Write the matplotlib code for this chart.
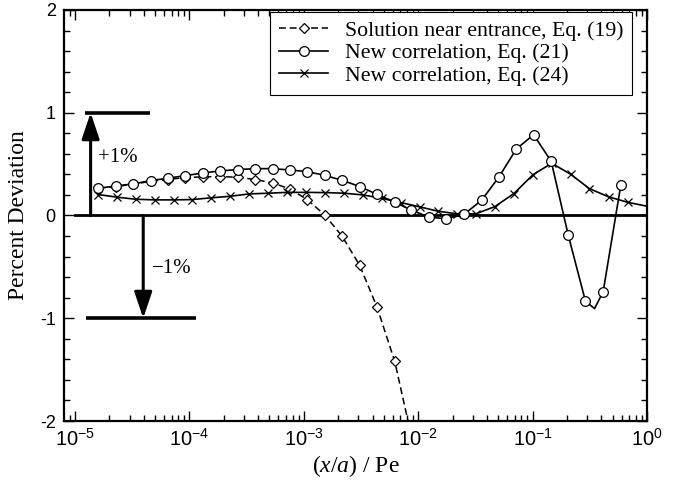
import matplotlib
matplotlib.use("Agg")
import matplotlib.pyplot as plt
import numpy as np

plt.rcParams['font.family'] = ['Liberation Serif', 'DejaVu Serif']
plt.rcParams['mathtext.fontset'] = 'custom'
plt.rcParams['mathtext.rm'] = 'Liberation Serif'
plt.rcParams['mathtext.it'] = 'Liberation Serif:italic'
plt.rcParams['mathtext.sf'] = 'Liberation Sans'

# ---- data ----
# Eq. (19): solution near entrance (dashed, diamonds)
x19 = [1.60e-5, 2.28e-5, 3.23e-5, 4.58e-5, 6.44e-5, 9.18e-5, 1.32e-4, 1.86e-4,
       2.65e-4, 3.78e-4, 5.33e-4, 7.55e-4, 1.07e-3, 1.52e-3, 2.16e-3, 3.08e-3,
       4.35e-3, 6.24e-3, 8.73e-3]
y19 = [0.265, 0.282, 0.304, 0.333, 0.350, 0.369, 0.376, 0.379,
       0.372, 0.350, 0.317, 0.259, 0.155, 0.007, -0.201, -0.485,
       -0.886, -1.420, -2.15]

# Eq. (21): new correlation (solid, circles)
x21 = [1.60e-5, 2.28e-5, 3.23e-5, 4.58e-5, 6.44e-5, 9.18e-5, 1.32e-4, 1.86e-4,
       2.65e-4, 3.78e-4, 5.33e-4, 7.55e-4, 1.07e-3, 1.52e-3, 2.16e-3, 3.08e-3,
       4.35e-3, 6.24e-3, 8.73e-3, 1.245e-2, 1.76e-2, 2.51e-2, 3.59e-2, 5.08e-2,
       7.21e-2, 0.102, 0.1455, 0.205, 0.290, 0.414, 0.590]
y21 = [0.265, 0.288, 0.307, 0.340, 0.362, 0.388, 0.414, 0.434,
       0.447, 0.456, 0.456, 0.443, 0.427, 0.391, 0.343, 0.282,
       0.207, 0.129, 0.052, -0.016, -0.032, 0.010, 0.149, 0.375,
       0.647, 0.786, 0.527, -0.191, -0.835, -0.741, 0.294]
# extra curve point (minimum of the Eq. 21 curve, no marker)
x21_min = [0.348]
y21_min = [-0.906]

# Eq. (24): new correlation (solid, crosses)
x24 = [1.60e-5, 2.34e-5, 3.41e-5, 5.00e-5, 7.28e-5, 1.058e-4, 1.55e-4, 2.27e-4,
       3.34e-4, 4.90e-4, 7.18e-4, 1.052e-3, 1.54e-3, 2.25e-3, 3.30e-3, 4.78e-3,
       7.13e-3, 1.03e-2, 1.49e-2, 2.18e-2, 3.18e-2, 4.69e-2, 6.87e-2, 0.101,
       0.147, 0.215, 0.313, 0.461, 0.676]
y24 = [0.204, 0.178, 0.158, 0.152, 0.152, 0.155, 0.172, 0.187,
       0.210, 0.217, 0.225, 0.225, 0.223, 0.217, 0.200, 0.168,
       0.125, 0.084, 0.042, 0.016, 0.016, 0.087, 0.214, 0.398,
       0.508, 0.402, 0.262, 0.182, 0.129]
# curve end at right edge (no marker)
x24_end = [1.0]
y24_end = [0.09]

labels = ["Solution near entrance, Eq. (19)",
          "New correlation, Eq. (21)",
          "New correlation, Eq. (24)"]

xtick_vals = [1e-5, 1e-4, 1e-3, 1e-2, 1e-1, 1e0]
xtick_labels = [r'$\mathsf{10^{-5}}$', r'$\mathsf{10^{-4}}$', r'$\mathsf{10^{-3}}$',
                r'$\mathsf{10^{-2}}$', r'$\mathsf{10^{-1}}$', r'$\mathsf{10^{0}}$']
ytick_vals = [-2, -1, 0, 1, 2]
ytick_labels = ['-2', '-1', '0', '1', '2']

# ---- figure ----
fig = plt.figure(figsize=(6.75, 4.87), dpi=100)
ax = fig.add_axes([0.0948, 0.1355, 0.8637, 0.844])

ax.set_xscale('log')
ax.set_xlim(10 ** -5.096, 1.0)
ax.set_ylim(-2, 2)

# zero line
ax.plot([1e-5, 1.0], [0, 0], color='black', lw=2.0, zorder=2)

# +1% / -1% bars and arrows
ax.plot([1.22e-5, 4.52e-5], [1, 1], color='black', lw=2.6, solid_capstyle='butt', zorder=3)
ax.plot([1.25e-5, 1.14e-4], [-1, -1], color='black', lw=2.6, solid_capstyle='butt', zorder=3)
arrow_kw = dict(arrowstyle='-|>,head_length=0.8,head_width=0.27', lw=2.2,
                color='black', shrinkA=0, shrinkB=0, mutation_scale=20)
ax.annotate('', xy=(1.37e-5, 1.0), xytext=(1.37e-5, 0.0), arrowprops=arrow_kw, zorder=3)
ax.annotate('', xy=(3.95e-5, -1.0), xytext=(3.95e-5, 0.0), arrowprops=arrow_kw, zorder=3)
ax.text(1.6e-5, 0.56, '+1%', fontsize=15, ha='left', va='center')
ax.text(4.7e-5, -0.52, '\u22121%', fontsize=15, ha='left', va='center')

# curves
ax.plot(x19, y19, color='black', lw=1.1, ls=(0, (4.5, 2.5)), marker='D', ms=5.2,
        mfc='white', mec='black', mew=0.9, label=labels[0], zorder=4)

xc = x21 + x21_min
yc = y21 + y21_min
order = np.argsort(xc)
ax.plot(np.array(xc)[order], np.array(yc)[order], color='black', lw=1.2, zorder=4)
ax.plot(x21, y21, ls='none', marker='o', ms=7, mfc='white', mec='black', mew=0.9, zorder=5)
h21, = ax.plot([], [], color='black', lw=1.2, marker='o', ms=7, mfc='white',
               mec='black', mew=0.9, label=labels[1])

ax.plot(x24 + x24_end, y24 + y24_end, color='black', lw=1.2, marker='x', ms=5.5,
        mec='black', mew=0.9, markevery=list(range(len(x24))), label=labels[2], zorder=4)

# ticks
ax.set_xticks(xtick_vals)
ax.set_xticklabels(xtick_labels, fontsize=14.5)
ax.set_yticks(ytick_vals)
ax.set_yticklabels(ytick_labels, fontfamily='Liberation Sans', fontsize=13)
ax.set_yticks(np.arange(-2, 2.01, 0.2), minor=True)
ax.xaxis.set_minor_locator(matplotlib.ticker.LogLocator(base=10, subs=np.arange(2, 10)))
ax.xaxis.set_minor_formatter(matplotlib.ticker.NullFormatter())
ax.tick_params(which='both', direction='in', top=True, right=True, width=1.0)
ax.tick_params(which='major', length=7)
ax.tick_params(which='minor', length=4)
ax.tick_params(axis='x', which='major', pad=6)
ax.tick_params(axis='y', which='major', pad=6)
for sp in ax.spines.values():
    sp.set_linewidth(1.6)

ax.set_xlabel('($\\mathit{x/a}$) / Pe', fontsize=17, labelpad=1)
ax.set_ylabel('Percent Deviation', fontsize=17, labelpad=8)

leg = ax.legend(loc='upper right', bbox_to_anchor=(0.975, 0.996), borderaxespad=0,
                fontsize=15.7, frameon=True, fancybox=False, edgecolor='black',
                framealpha=1, handlelength=2.25, handletextpad=0.75, labelspacing=0.1,
                borderpad=0.42)
leg.get_frame().set_linewidth(0.8)

fig.savefig('out.png', dpi=100)
